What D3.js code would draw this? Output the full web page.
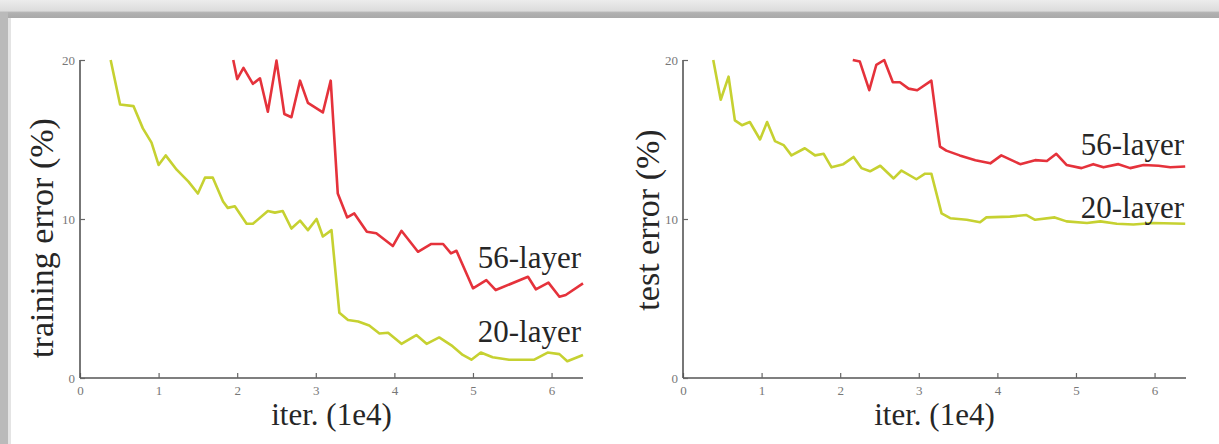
<!DOCTYPE html>
<html>
<head>
<meta charset="utf-8">
<script src="https://cdn.jsdelivr.net/npm/d3@7"></script>
<style>
  body { margin: 0; background: #fff; }
  svg { display: block; }
</style>
</head>
<body>
<div id="chart"></div>
<script>
// iterations are in units of 1e4, errors in %
const xTicks = [0, 1, 2, 3, 4, 5, 6];
const yTicks = [0, 10, 20];

const trainIter20 = [0.39, 0.51, 0.68, 0.80, 0.91, 1.00, 1.09, 1.23, 1.38, 1.50, 1.59, 1.69, 1.82, 1.88, 1.97, 2.12, 2.20, 2.39, 2.48, 2.58, 2.69, 2.80, 2.90, 3.01, 3.09, 3.20, 3.30, 3.41, 3.54, 3.68, 3.81, 3.92, 4.09, 4.28, 4.41, 4.57, 4.74, 4.87, 4.98, 5.10, 5.25, 5.46, 5.78, 5.95, 6.10, 6.20, 6.40];
const trainErr20 = [20.0, 17.2, 17.1, 15.7, 14.8, 13.4, 14.0, 13.1, 12.35, 11.6, 12.6, 12.6, 11.1, 10.7, 10.8, 9.7, 9.7, 10.5, 10.4, 10.5, 9.4, 9.9, 9.3, 10.0, 8.9, 9.3, 4.1, 3.65, 3.55, 3.3, 2.8, 2.85, 2.15, 2.7, 2.15, 2.55, 2.0, 1.45, 1.15, 1.6, 1.3, 1.15, 1.15, 1.6, 1.5, 1.05, 1.45];

const trainIter56 = [1.95, 2.00, 2.08, 2.20, 2.29, 2.39, 2.50, 2.60, 2.69, 2.80, 2.90, 3.09, 3.19, 3.28, 3.40, 3.49, 3.65, 3.77, 3.98, 4.09, 4.30, 4.47, 4.62, 4.72, 4.79, 5.00, 5.17, 5.29, 5.70, 5.80, 5.96, 6.10, 6.18, 6.40];
const trainErr56 = [20.0, 18.8, 19.5, 18.5, 18.85, 16.75, 19.96, 16.6, 16.4, 18.7, 17.3, 16.7, 18.7, 11.6, 10.1, 10.35, 9.2, 9.1, 8.3, 9.26, 7.94, 8.43, 8.43, 7.84, 8.0, 5.64, 6.16, 5.53, 6.37, 5.58, 6.0, 5.11, 5.22, 5.95];

const testIter20 = [0.385, 0.48, 0.58, 0.66, 0.75, 0.85, 0.98, 1.07, 1.17, 1.28, 1.38, 1.55, 1.68, 1.79, 1.89, 2.04, 2.17, 2.27, 2.38, 2.51, 2.68, 2.78, 2.97, 3.08, 3.16, 3.29, 3.40, 3.61, 3.78, 3.86, 4.16, 4.37, 4.48, 4.73, 4.88, 5.14, 5.31, 5.52, 5.73, 5.98, 6.39];
const testErr20 = [20.0, 17.5, 18.95, 16.2, 15.9, 16.1, 15.0, 16.1, 14.9, 14.65, 14.0, 14.45, 14.0, 14.1, 13.25, 13.45, 13.9, 13.2, 13.0, 13.35, 12.55, 13.05, 12.5, 12.85, 12.85, 10.35, 10.05, 9.95, 9.8, 10.1, 10.15, 10.25, 9.95, 10.1, 9.85, 9.75, 9.85, 9.7, 9.65, 9.75, 9.7];

const testIter56 = [2.16, 2.25, 2.37, 2.46, 2.56, 2.67, 2.76, 2.87, 2.98, 3.16, 3.27, 3.35, 3.52, 3.72, 3.91, 4.05, 4.29, 4.48, 4.63, 4.75, 4.88, 5.07, 5.22, 5.35, 5.54, 5.69, 5.86, 6.05, 6.20, 6.39];
const testErr56 = [20.0, 19.9, 18.1, 19.7, 20.0, 18.6, 18.6, 18.2, 18.1, 18.7, 14.55, 14.3, 14.0, 13.7, 13.5, 14.0, 13.45, 13.7, 13.65, 14.1, 13.4, 13.2, 13.45, 13.25, 13.45, 13.2, 13.4, 13.35, 13.25, 13.3];

const width = 1219;
const height = 444;
const red = '#e5323b';
const yellow = '#c6d131';
const serif = '"Liberation Serif", "Times New Roman", serif';

const svg = d3.select('#chart')
  .append('svg')
  .attr('width', width)
  .attr('height', height);

svg.append('rect').attr('width', width).attr('height', height).attr('fill', '#fff');

// grey frame round the screenshot
const frameGrad = svg.append('defs').append('linearGradient')
  .attr('id', 'topband').attr('x1', 0).attr('x2', 0).attr('y1', 0).attr('y2', 1);
frameGrad.append('stop').attr('offset', '0%').attr('stop-color', '#ececec');
frameGrad.append('stop').attr('offset', '60%').attr('stop-color', '#dcdcdc');
frameGrad.append('stop').attr('offset', '70%').attr('stop-color', '#b2b2b2');
frameGrad.append('stop').attr('offset', '100%').attr('stop-color', '#a9a9a9');
svg.append('rect').attr('x', 0).attr('y', 0).attr('width', width).attr('height', 18).attr('fill', 'url(#topband)');
svg.append('rect').attr('x', 0).attr('y', 12).attr('width', 8).attr('height', height - 12).attr('fill', '#bababa');
svg.append('rect').attr('x', 8).attr('y', 18).attr('width', 3).attr('height', height - 18).attr('fill', '#e4e4e4');

function zip(xs, ys) {
  return xs.map((x, i) => ({ x, y: ys[i] }));
}

function panel(opts) {
  const x = d3.scaleLinear().domain([0, 6.4]).range([opts.left, opts.left + 503]);
  const y = d3.scaleLinear().domain([0, 20]).range([378, 60]);

  const g = svg.append('g');

  const xAxis = d3.axisBottom(x).tickValues(xTicks).tickSize(-5).tickPadding(8).tickFormat(d3.format('d'));
  const yAxis = d3.axisLeft(y).tickValues(yTicks).tickSize(-5).tickPadding(5).tickFormat(d3.format('d'));

  const gx = g.append('g').attr('transform', `translate(0,${y(0)})`).call(xAxis);
  const gy = g.append('g').attr('transform', `translate(${x(0)},0)`).call(yAxis);

  [gx, gy].forEach(a => {
    a.select('.domain').attr('stroke', '#555').attr('stroke-width', 1.6);
    a.selectAll('.tick line').attr('stroke', '#666').attr('stroke-width', 1.2);
    a.selectAll('.tick text')
      .attr('fill', '#777')
      .style('font-family', serif)
      .style('font-size', '13px');
  });
  gy.select('.domain').attr('d', `M0,${y(0)}V${y(20)}`);
  gx.select('.domain').attr('d', `M${x(0)},0H${x(6.4)}`);

  const line = d3.line().x(d => x(d.x)).y(d => y(d.y));

  opts.series.forEach(s => {
    g.append('path')
      .datum(zip(s.iters, s.errs))
      .attr('fill', 'none')
      .attr('stroke', s.colour)
      .attr('stroke-width', 2.6)
      .attr('stroke-linejoin', 'round')
      .attr('d', line);

    g.append('text')
      .attr('x', x(6.4) - 2)
      .attr('y', s.labelY)
      .attr('text-anchor', 'end')
      .attr('fill', '#262626')
      .style('font-family', serif)
      .style('font-size', '31px')
      .text(s.label);
  });

  g.append('text')
    .attr('x', (x(0) + x(6.4)) / 2)
    .attr('y', 425)
    .attr('text-anchor', 'middle')
    .attr('fill', '#262626')
    .style('font-family', serif)
    .style('font-size', '31px')
    .text('iter. (1e4)');

  g.append('text')
    .attr('transform', `translate(${opts.yLabelX},${opts.yLabelY}) rotate(-90)`)
    .attr('text-anchor', 'middle')
    .attr('fill', '#262626')
    .style('font-family', serif)
    .style('font-size', '34px')
    .text(opts.yLabel);
}

panel({
  left: 80,
  yLabel: 'training error (%)',
  yLabelX: 53,
  yLabelY: 238,
  series: [
    { iters: trainIter20, errs: trainErr20, colour: yellow, label: '20-layer', labelY: 342 },
    { iters: trainIter56, errs: trainErr56, colour: red, label: '56-layer', labelY: 268 }
  ]
});

panel({
  left: 683,
  yLabel: 'test error (%)',
  yLabelX: 659,
  yLabelY: 220,
  series: [
    { iters: testIter20, errs: testErr20, colour: yellow, label: '20-layer', labelY: 218 },
    { iters: testIter56, errs: testErr56, colour: red, label: '56-layer', labelY: 155 }
  ]
});
</script>
</body>
</html>
